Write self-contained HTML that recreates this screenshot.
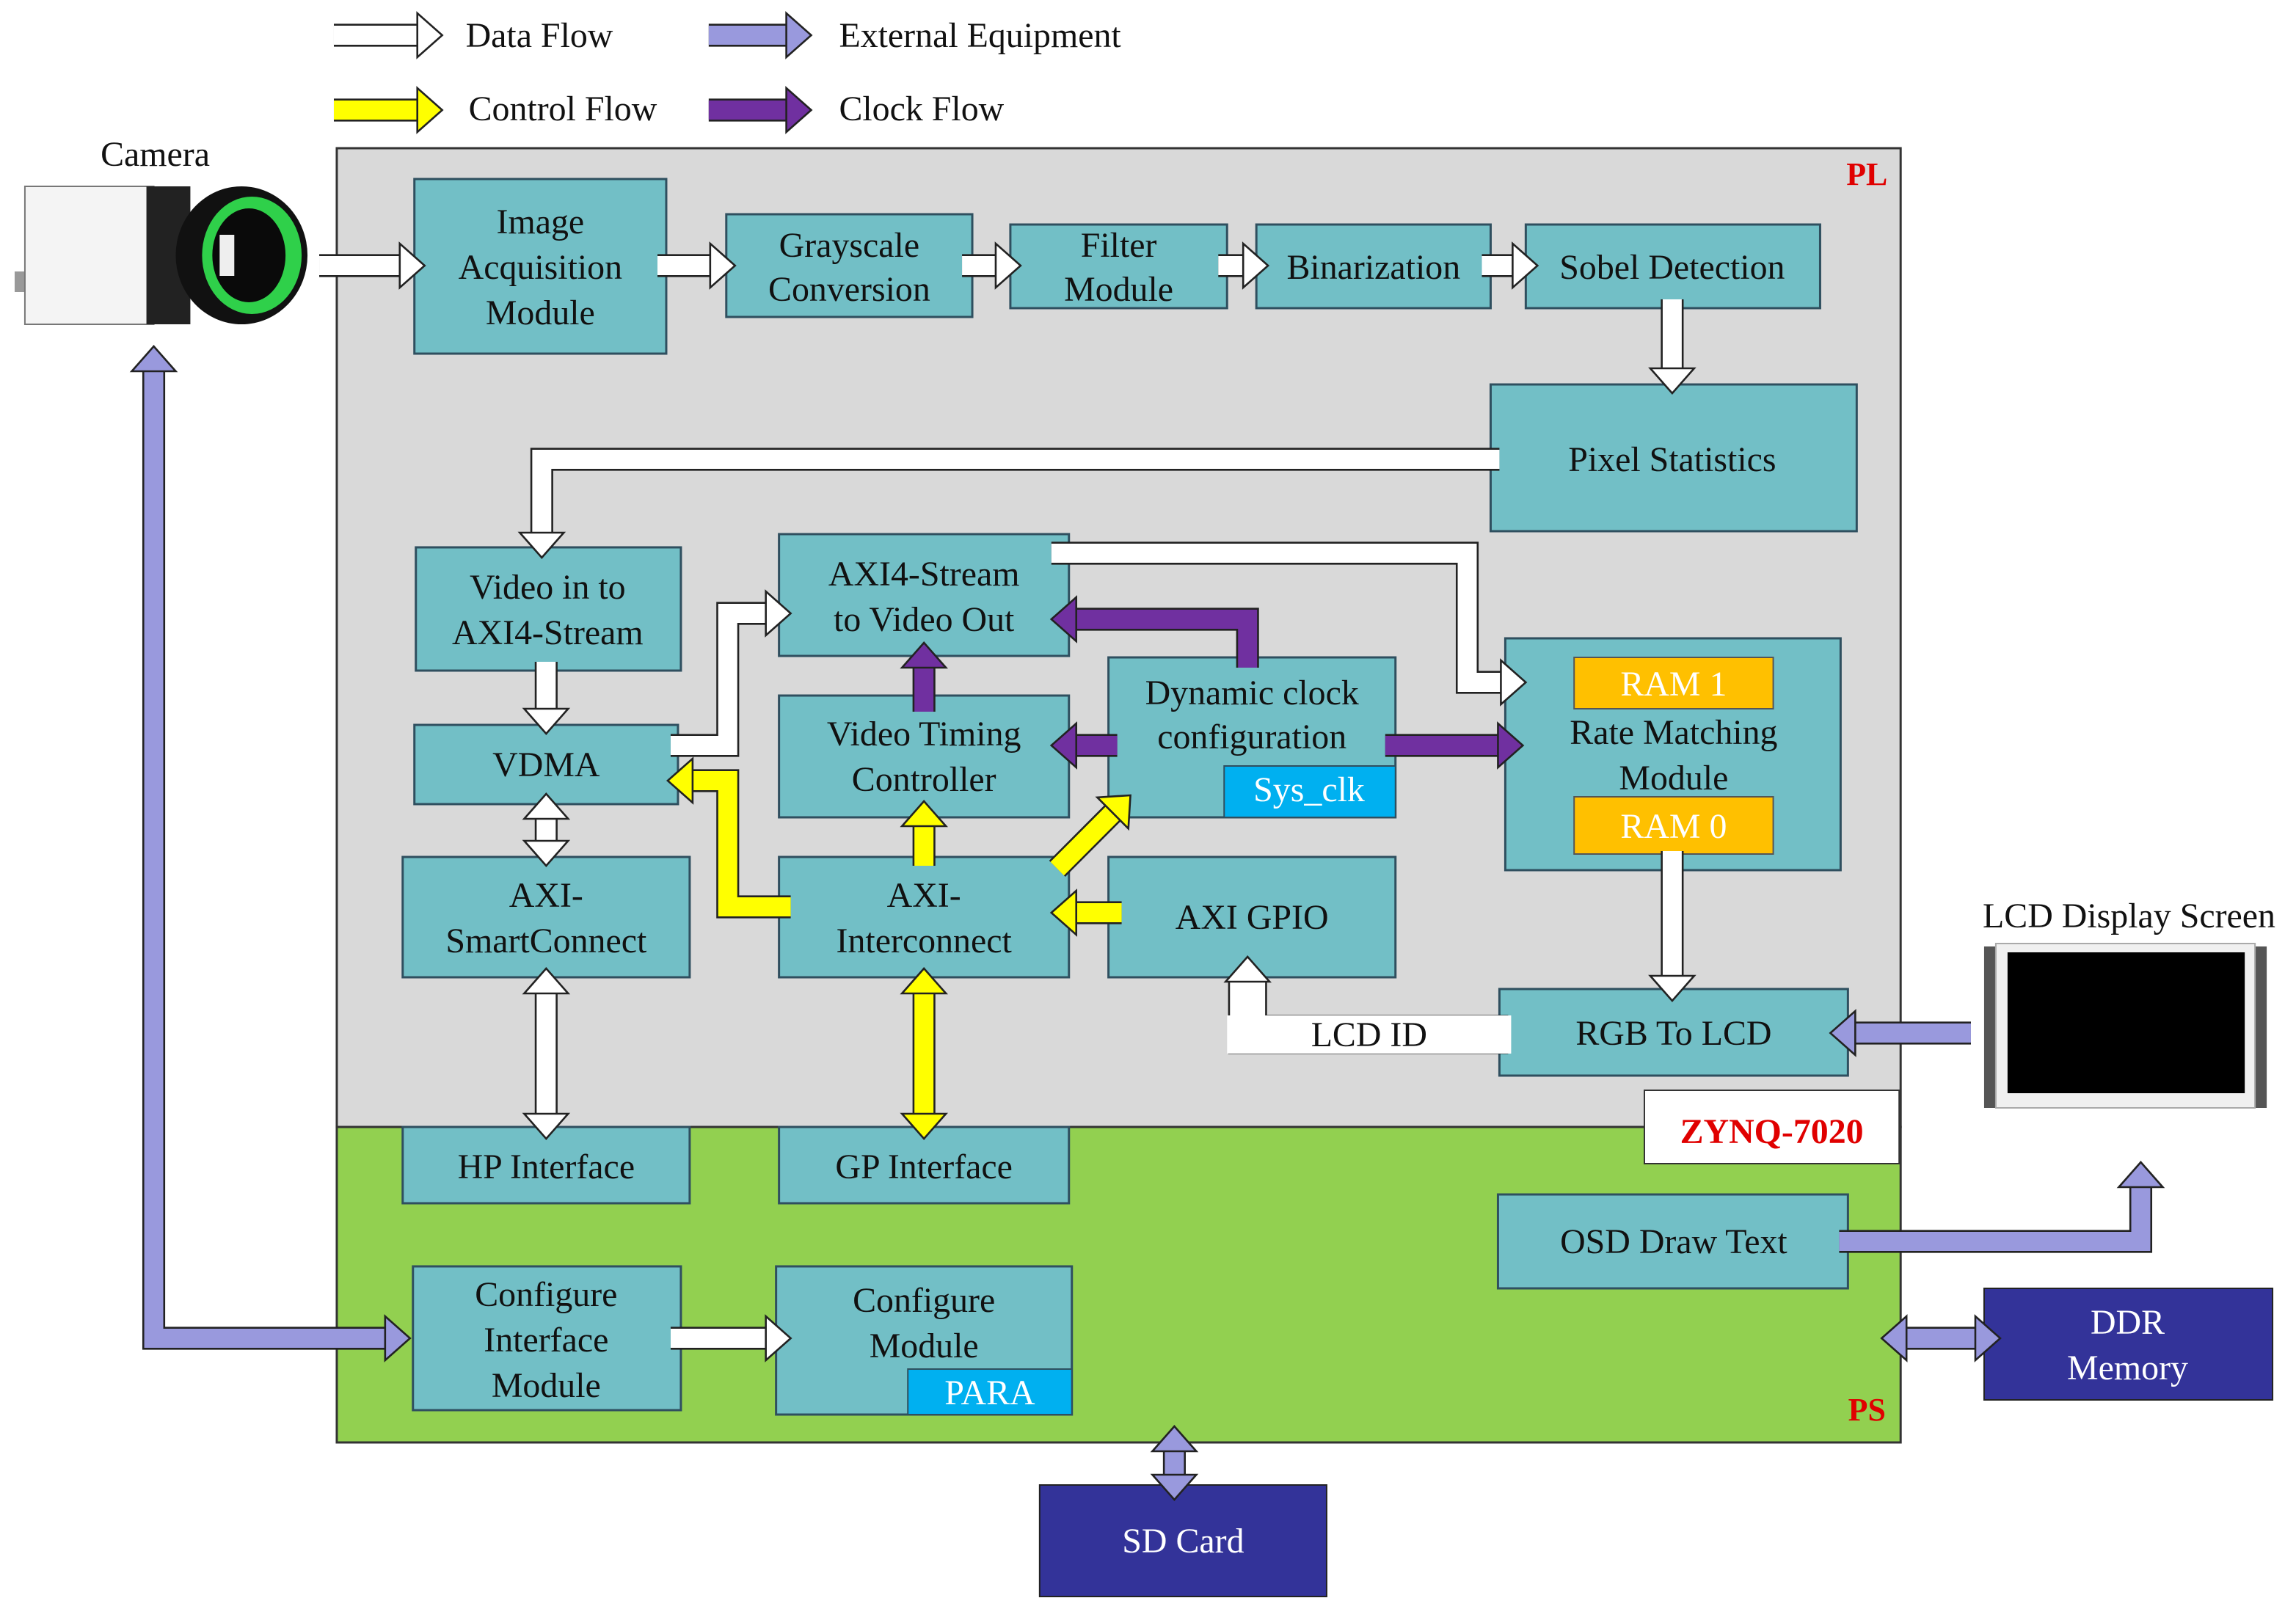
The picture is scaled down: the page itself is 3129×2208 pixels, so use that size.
<!DOCTYPE html>
<html><head><meta charset="utf-8">
<style>
html,body{margin:0;padding:0;background:#fff;}
svg{display:block;}
text{font-family:"Liberation Serif",serif;}
</style></head>
<body>
<svg id="s" width="3129" height="2208" viewBox="0 0 1568 1104" preserveAspectRatio="none" xmlns="http://www.w3.org/2000/svg" font-family="'Liberation Serif', serif">
<rect width="1568" height="1104" fill="#fff"/>
<rect x="230" y="101" width="1068" height="667" fill="#d9d9d9" stroke="#333" stroke-width="1.5"/>
<rect x="230" y="768" width="1068" height="215" fill="#92d050" stroke="#333" stroke-width="1.5"/>
<rect x="1123" y="743" width="174" height="50" fill="#fff" stroke="#333" stroke-width="1"/>
<text x="1210" y="779" font-size="24" font-weight="bold" fill="#e00000" text-anchor="middle">ZYNQ-7020</text>
<text x="1275" y="126" font-size="22" font-weight="bold" fill="#e00000" text-anchor="middle">PL</text>
<text x="1275" y="968" font-size="22" font-weight="bold" fill="#e00000" text-anchor="middle">PS</text>
<g stroke="#2f4f5f" stroke-width="1.5" fill="#72bfc6">
<rect x="283" y="122" width="172" height="119"/>
<rect x="496" y="146" width="168" height="70"/>
<rect x="690" y="153" width="148" height="57"/>
<rect x="858" y="153" width="160" height="57"/>
<rect x="1042" y="153" width="201" height="57"/>
<rect x="1018" y="262" width="250" height="100"/>
<rect x="284" y="373" width="181" height="84"/>
<rect x="532" y="364" width="198" height="83"/>
<rect x="283" y="494" width="180" height="54"/>
<rect x="532" y="474" width="198" height="83"/>
<rect x="757" y="448" width="196" height="109"/>
<rect x="1028" y="435" width="229" height="158"/>
<rect x="275" y="584" width="196" height="82"/>
<rect x="532" y="584" width="198" height="82"/>
<rect x="757" y="584" width="196" height="82"/>
<rect x="1024" y="674" width="238" height="59"/>
<rect x="275" y="768" width="196" height="52"/>
<rect x="532" y="768" width="198" height="52"/>
<rect x="1023" y="814" width="239" height="64"/>
<rect x="282" y="863" width="183" height="98"/>
<rect x="530" y="863" width="202" height="101"/>
</g>
<rect x="836" y="522" width="117" height="35" fill="#00b0f0" stroke="#2f4f5f"/>
<rect x="1075" y="448" width="136" height="35" fill="#ffc000" stroke="#555"/>
<rect x="1075" y="543" width="136" height="39" fill="#ffc000" stroke="#555"/>
<rect x="620" y="933" width="112" height="31" fill="#00b0f0" stroke="#2f4f5f"/>
<rect x="1355" y="878" width="197" height="76" fill="#333399" stroke="#222"/>
<rect x="710" y="1012" width="196" height="76" fill="#333399" stroke="#222"/>
<g id="arrows"></g>
<rect x="838" y="692" width="194" height="26" fill="#fff"/>
<g font-size="24" fill="#111" text-anchor="middle" font-family="'Liberation Serif', serif">
<text x="369" y="159">Image</text><text x="369" y="190">Acquisition</text><text x="369" y="221">Module</text>
<text x="580" y="175">Grayscale</text><text x="580" y="205">Conversion</text>
<text x="764" y="175">Filter</text><text x="764" y="205">Module</text>
<text x="938" y="190">Binarization</text>
<text x="1142" y="190">Sobel Detection</text>
<text x="1142" y="321">Pixel Statistics</text>
<text x="374" y="408">Video in to</text><text x="374" y="439">AXI4-Stream</text>
<text x="631" y="399">AXI4-Stream</text><text x="631" y="430">to Video Out</text>
<text x="373" y="529">VDMA</text>
<text x="631" y="508">Video Timing</text><text x="631" y="539">Controller</text>
<text x="855" y="480">Dynamic clock</text><text x="855" y="510">configuration</text>
<text x="894" y="546" fill="#fff">Sys_clk</text>
<text x="1143" y="474" fill="#fff">RAM 1</text>
<text x="1143" y="507">Rate Matching</text><text x="1143" y="538">Module</text>
<text x="1143" y="571" fill="#fff">RAM 0</text>
<text x="373" y="618">AXI-</text><text x="373" y="649">SmartConnect</text>
<text x="631" y="618">AXI-</text><text x="631" y="649">Interconnect</text>
<text x="855" y="633">AXI GPIO</text>
<text x="935" y="713">LCD ID</text>
<text x="1143" y="712">RGB To LCD</text>
<text x="373" y="803">HP Interface</text>
<text x="631" y="803">GP Interface</text>
<text x="1143" y="854">OSD Draw Text</text>
<text x="373" y="890">Configure</text><text x="373" y="921">Interface</text><text x="373" y="952">Module</text>
<text x="631" y="894">Configure</text><text x="631" y="925">Module</text>
<text x="676" y="957" fill="#fff">PARA</text>
<text x="1453" y="909" fill="#fff">DDR</text><text x="1453" y="940" fill="#fff">Memory</text>
<text x="808" y="1058" fill="#fff">SD Card</text>
<text x="106" y="113">Camera</text>
<text x="1454" y="632">LCD Display Screen</text>
</g>
<g font-size="24" fill="#111" font-family="'Liberation Serif', serif">
<text x="318" y="32">Data Flow</text><text x="573" y="32">External Equipment</text>
<text x="320" y="82">Control Flow</text><text x="573" y="82">Clock Flow</text>
</g>
<rect x="10" y="185" width="10" height="14" fill="#999"/>
<rect x="17" y="127" width="88" height="94" fill="#f4f4f4" stroke="#777"/>
<rect x="100" y="127" width="30" height="94" fill="#222"/>
<ellipse cx="165" cy="174" rx="45" ry="47" fill="#111"/>
<ellipse cx="172" cy="174" rx="34" ry="40" fill="#2fd04a"/>
<ellipse cx="170" cy="174" rx="25" ry="32" fill="#0a0a0a"/>
<rect x="150" y="160" width="10" height="28" fill="#eee"/>
<rect x="1355" y="645" width="8" height="110" fill="#555"/>
<rect x="1540" y="645" width="8" height="110" fill="#555"/>
<rect x="1363" y="643" width="177" height="112" fill="#f0f0f0" stroke="#aaa"/>
<rect x="1371" y="649" width="162" height="96" fill="#000"/>
<script>
var NS="http://www.w3.org/2000/svg",g=document.getElementById("arrows");
function el(t,a){var e=document.createElementNS(NS,t);for(var k in a)e.setAttribute(k,a[k]);g.appendChild(e);return e;}
function head(p,q,c,L,H){var dx=q[0]-p[0],dy=q[1]-p[1],l=Math.hypot(dx,dy),ux=dx/l,uy=dy/l;var bx=q[0]-ux*L,by=q[1]-uy*L;
el("polygon",{points:[q[0],q[1],bx-uy*H,by+ux*H,bx+uy*H,by-ux*H].join(" "),fill:c,stroke:"#222","stroke-width":1.3,"stroke-linejoin":"miter"});}
function arrow(pts,c,both,w){w=w||13;var L=17,H=15;pts=pts.map(function(p){return p.slice();});
var n=pts.length,p2=pts.slice();
function shorten(a,b){var dx=b[0]-a[0],dy=b[1]-a[1],l=Math.hypot(dx,dy);return [b[0]-dx/l*(L-2),b[1]-dy/l*(L-2)];}
p2[n-1]=shorten(pts[n-2],pts[n-1]);if(both)p2[0]=shorten(pts[1],pts[0]);
var s=p2.map(function(p){return p.join(",");}).join(" ");
el("polyline",{points:s,fill:"none",stroke:"#222","stroke-width":w+2.6,"stroke-linejoin":"miter","stroke-linecap":"butt"});
el("polyline",{points:s,fill:"none",stroke:c,"stroke-width":w,"stroke-linejoin":"miter","stroke-linecap":"butt"});
head(pts[n-2],pts[n-1],c,L,H);if(both)head(pts[1],pts[0],c,L,H);}
var W="#ffffff",Y="#ffff00",P="#7030a0",V="#9999dd";
arrow([[228,24],[302,24]],W);arrow([[484,24],[554,24]],V);
arrow([[228,75],[302,75]],Y);arrow([[484,75],[554,75]],P);
arrow([[218,181],[290,181]],W);arrow([[449,181],[502,181]],W);arrow([[657,181],[697,181]],W);
arrow([[832,181],[866,181]],W);arrow([[1012,181],[1050,181]],W);arrow([[1142,204],[1142,268]],W);
arrow([[1024,313],[370,313],[370,380]],W);arrow([[373,451],[373,500]],W);
arrow([[458,508],[497,508],[497,418],[540,418]],W);
arrow([[718,377],[1002,377],[1002,465],[1042,465]],W);
arrow([[852,455],[852,422],[718,422]],P);arrow([[763,508],[718,508]],P);
arrow([[946,508],[1040,508]],P);arrow([[631,485],[631,438]],P);
arrow([[373,541],[373,590]],W,true);
arrow([[540,618],[497,618],[497,532],[456,532]],Y);
arrow([[631,590],[631,546]],Y);arrow([[722,592],[772,542]],Y);
arrow([[766,622],[718,622]],Y);
arrow([[373,660],[373,776]],W,true);arrow([[631,660],[631,776]],Y,true);
arrow([[1030,705],[852,705],[852,652]],W,false,24);
arrow([[1142,580],[1142,682]],W);
arrow([[1346,704],[1250,704]],V);
arrow([[1256,846],[1462,846],[1462,792]],V);
arrow([[105,236],[105,912],[280,912]],V,true);
arrow([[458,912],[540,912]],W);
arrow([[1285,912],[1366,912]],V,true);
arrow([[802,972],[802,1022]],V,true);
</script>
</svg>
</body></html>
